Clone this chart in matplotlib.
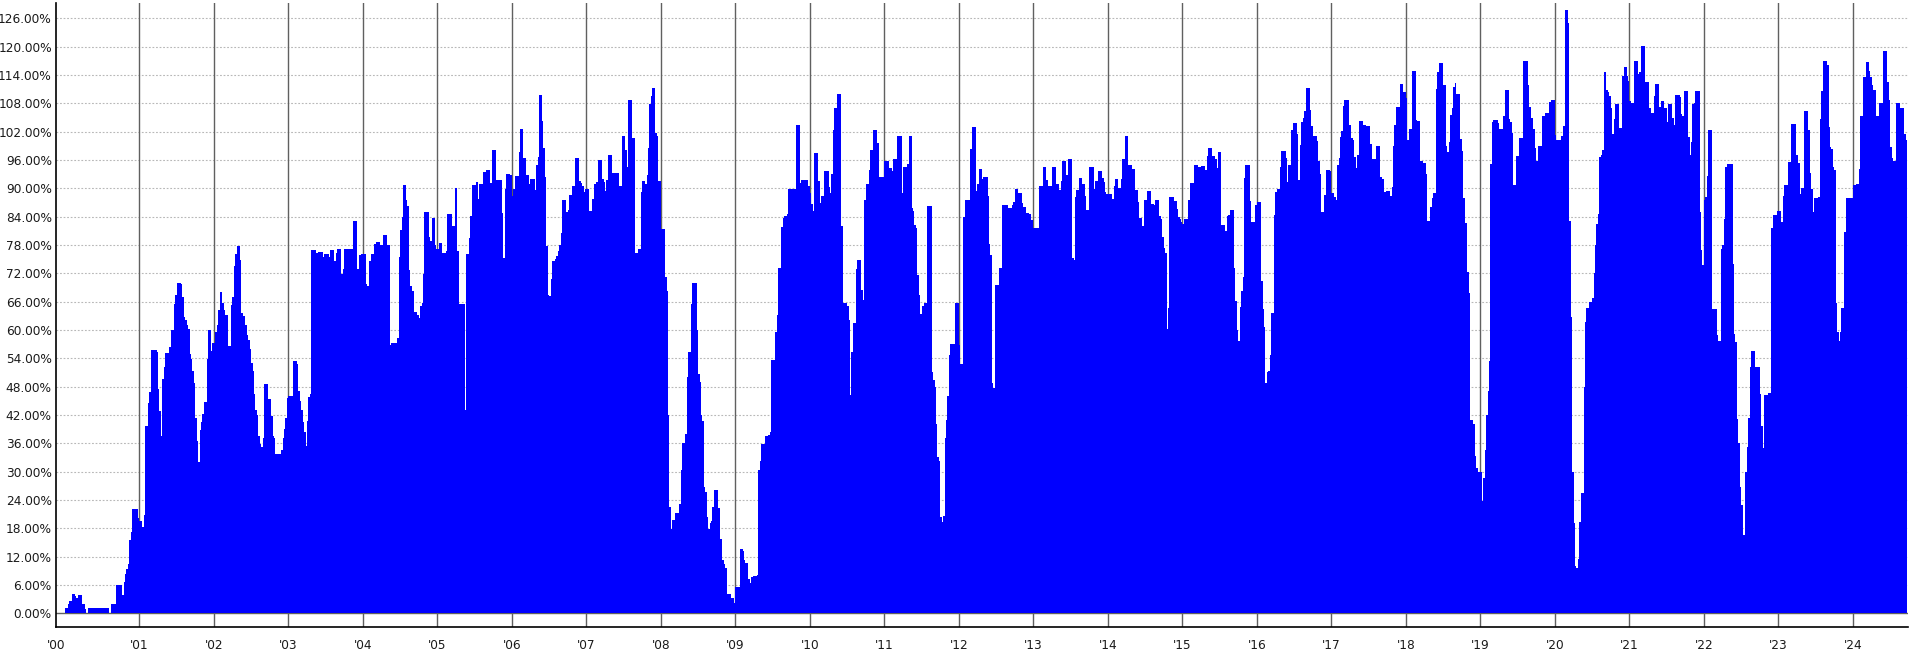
import numpy as np
import matplotlib
matplotlib.use("Agg")
import matplotlib.pyplot as plt

# ---- weekly values (%), one list per year ----
y2000 = [1.1, 1.1, 2.0, 2.6, 2.6, 4.1, 4.1, 3.7, 3.3, 3.9, 3.9, 3.9, 2.0, 2.0, 1.0, 0.0,
         1.1, 1.1, 1.1, 1.1, 1.1, 1.1, 1.1, 1.1, 1.1, 1.1, 1.1, 1.1, 1.1, 1.1, 1.1,
         0.0, 2.0, 2.0, 2.0, 2.0, 6.0, 6.0, 6.0, 6.0, 3.9, 6.6, 8.4, 9.4, 10.4, 15.6, 17.3,
         22.0, 22.0, 22.0, 22.0, 20.2]
y2001 = [19.5, 19.5, 18.2, 20.7, 39.6, 39.6, 44.5, 46.9, 55.8, 55.8, 55.8, 55.8, 55.3, 47.5,
         42.9, 37.6, 49.6, 52.1, 55.2, 55.2, 55.2, 56.4, 59.9, 59.9, 65.5, 67.5, 70.0, 70.0,
         70.0, 69.7, 66.9, 62.8, 62.0, 61.1, 60.2, 55.0, 53.9, 51.3, 48.8, 41.3, 36.5, 32.0,
         38.8, 40.4, 42.2, 44.8, 44.8, 53.9, 60.0, 60.0, 55.5, 57.3]
y2002 = [57.3, 59.6, 61.0, 64.2, 68.1, 68.1, 65.8, 64.2, 63.2, 63.2, 56.7, 56.7, 65.3, 67.0,
         73.6, 76.0, 77.7, 77.7, 74.8, 63.6, 63.0, 63.0, 61.1, 58.9, 57.8, 55.9, 53.0, 51.4,
         46.5, 43.0, 42.0, 37.6, 35.8, 35.3, 37.2, 48.6, 48.6, 48.6, 45.4, 45.4, 41.7, 37.6,
         37.1, 33.7, 33.7, 33.7, 33.7, 34.5, 37.1, 39.0, 41.3, 45.5]
y2003 = [46.0, 46.0, 46.0, 53.4, 53.4, 53.4, 52.8, 47.0, 45.0, 43.0, 40.6, 38.4, 35.5, 40.8,
         45.7, 46.4, 77.0, 77.0, 77.0, 76.2, 76.2, 76.4, 76.4, 76.4, 75.5, 76.1, 76.1, 76.1,
         75.5, 77.0, 77.0, 77.0, 74.7, 76.3, 77.2, 77.2, 77.2, 71.9, 72.9, 77.2, 77.2, 77.2,
         77.2, 77.2, 77.2, 83.0, 83.0, 83.0, 72.9, 75.8, 75.8, 76.1]
y2004 = [76.1, 76.1, 69.7, 69.4, 74.5, 74.5, 76.1, 76.1, 78.2, 78.7, 78.7, 78.7, 77.9, 77.9,
         80.0, 80.0, 80.0, 77.9, 77.9, 56.9, 57.3, 57.3, 57.3, 57.3, 58.2, 75.5, 81.2, 83.9,
         90.6, 90.6, 87.6, 86.2, 72.6, 69.2, 68.3, 68.3, 63.9, 63.9, 63.2, 62.5, 65.1, 65.8,
         71.9, 84.9, 84.9, 84.9, 79.6, 78.8, 83.8, 83.8, 77.9, 77.2]
y2005 = [77.2, 78.4, 78.4, 76.2, 76.2, 76.2, 76.8, 84.5, 84.5, 84.5, 82.1, 82.1, 90.1, 90.1,
         76.8, 65.5, 65.5, 65.4, 65.4, 43.0, 76.0, 76.0, 79.4, 84.2, 90.6, 90.6, 90.6, 91.3,
         87.7, 90.8, 90.8, 90.8, 93.4, 93.4, 93.9, 93.9, 93.9, 91.1, 98.0, 98.0, 98.0, 91.7,
         91.7, 91.7, 91.7, 84.7, 75.2, 89.9, 93.1, 93.1, 93.1, 92.8]
y2006 = [88.3, 89.9, 92.5, 92.6, 92.6, 97.7, 102.5, 102.5, 96.5, 96.5, 92.8, 92.8, 90.9, 91.9,
         91.9, 91.9, 89.6, 94.9, 96.6, 109.8, 109.8, 104.2, 98.6, 92.4, 77.8, 67.4, 67.1, 70.8,
         74.6, 74.6, 75.0, 75.7, 76.7, 78.0, 80.5, 87.5, 87.5, 87.5, 85.0, 85.3, 88.6, 88.6,
         90.5, 90.5, 96.5, 96.5, 96.5, 91.6, 91.2, 90.4, 89.2, 89.9]
y2007 = [89.9, 89.9, 85.2, 85.2, 87.8, 90.9, 90.9, 91.4, 96.0, 96.0, 96.0, 92.0, 91.3, 89.5,
         91.7, 97.0, 97.0, 97.0, 93.2, 93.2, 93.2, 93.2, 93.2, 90.5, 90.5, 101.1, 101.1, 98.0,
         94.4, 108.7, 108.7, 108.7, 100.7, 100.7, 76.3, 76.3, 77.1, 77.1, 89.2, 91.6, 91.6,
         90.9, 92.8, 98.6, 107.9, 109.5, 111.2, 111.2, 101.7, 101.1, 91.6, 91.6]
y2008 = [81.3, 81.3, 81.3, 71.2, 68.2, 42.0, 22.5, 17.9, 19.8, 19.8, 21.2, 21.2, 21.2, 23.1,
         30.4, 36.0, 36.0, 38.0, 50.0, 55.3, 55.3, 65.5, 69.9, 69.9, 69.9, 60.0, 50.7, 49.0,
         42.0, 40.8, 26.7, 25.7, 20.4, 17.8, 19.1, 19.6, 22.6, 26.0, 26.0, 26.0, 22.2, 15.7,
         15.7, 11.2, 10.4, 9.5, 4.0, 4.0, 4.0, 3.3, 3.2, 2.1]
y2009 = [5.5, 5.5, 5.5, 13.7, 13.7, 13.1, 11.2, 10.6, 10.6, 7.2, 6.3, 7.7, 7.9, 7.9, 7.9, 8.0,
         30.4, 32.3, 35.9, 35.9, 35.9, 37.5, 37.5, 37.8, 38.3, 53.6, 53.6, 53.6, 59.5, 63.2,
         73.1, 73.1, 81.8, 83.7, 84.1, 84.1, 84.5, 89.9, 89.9, 89.9, 89.9, 89.9, 103.4, 103.4,
         103.4, 91.2, 91.7, 91.7, 91.7, 91.7, 91.7, 90.5]
y2010 = [89.0, 86.7, 85.2, 97.5, 97.5, 97.5, 91.5, 86.9, 88.3, 88.3, 93.7, 93.7, 93.7, 90.3,
         88.9, 93.0, 102.4, 107.0, 107.0, 110.0, 110.0, 110.0, 82.0, 65.7, 65.7, 65.7, 65.0,
         62.1, 46.2, 55.3, 61.5, 61.5, 72.9, 74.8, 74.8, 74.8, 68.4, 66.4, 87.5, 90.9, 90.9,
         93.9, 98.1, 98.1, 102.4, 102.4, 102.4, 99.6, 92.4, 92.4, 92.4, 92.4]
y2011 = [95.8, 95.8, 95.8, 94.3, 94.3, 93.7, 96.2, 96.2, 96.2, 101.1, 101.1, 101.1, 89.0, 94.5,
         94.5, 94.5, 95.2, 101.1, 101.1, 85.8, 85.1, 82.3, 81.6, 71.6, 67.4, 63.3, 65.0, 65.0,
         65.7, 65.7, 86.2, 86.2, 86.2, 51.1, 49.4, 48.0, 40.0, 33.0, 32.2, 20.4, 19.3, 20.5,
         37.1, 41.0, 46.1, 54.6, 57.0, 57.0, 57.0, 65.7, 65.7, 65.7]
y2012 = [56.9, 52.7, 52.7, 84.0, 87.5, 87.5, 87.5, 87.5, 98.3, 103.0, 103.0, 103.0, 89.4, 90.9,
         94.0, 94.0, 92.0, 92.4, 92.4, 92.4, 88.3, 78.2, 75.8, 48.8, 47.8, 69.5, 69.5, 69.5,
         73.2, 73.2, 86.5, 86.5, 86.5, 86.5, 85.8, 85.8, 85.8, 86.5, 87.1, 89.9, 89.9, 89.0,
         89.0, 89.0, 86.9, 86.1, 86.1, 84.8, 84.8, 84.5, 83.3, 83.3]
y2013 = [81.6, 81.6, 81.6, 81.6, 90.5, 90.5, 90.5, 94.5, 94.5, 91.7, 90.5, 90.5, 90.5, 94.5,
         94.5, 94.5, 90.9, 90.9, 89.6, 91.6, 95.8, 95.8, 95.8, 92.8, 96.2, 96.2, 96.2, 75.3,
         74.8, 88.2, 89.6, 89.6, 92.1, 92.1, 90.9, 90.9, 88.3, 85.4, 85.4, 94.5, 94.5, 94.5,
         89.9, 91.6, 91.6, 93.7, 93.7, 93.7, 92.1, 91.3, 89.2, 88.8]
y2014 = [88.8, 88.8, 88.8, 87.8, 90.5, 92.0, 92.0, 90.0, 90.0, 92.0, 96.2, 96.2, 101.1, 101.1,
         94.9, 94.9, 94.9, 94.1, 94.1, 89.6, 89.6, 87.1, 83.7, 83.7, 82.0, 87.5, 87.5, 89.4,
         89.4, 89.4, 86.7, 86.7, 86.5, 87.5, 87.5, 87.5, 84.1, 83.5, 79.6, 77.4, 76.3, 60.2,
         64.6, 88.2, 88.2, 88.2, 87.3, 87.3, 85.6, 84.0, 83.5, 82.9]
y2015 = [82.4, 83.5, 83.5, 83.5, 87.5, 91.1, 91.1, 91.1, 94.9, 94.9, 94.9, 94.5, 94.5, 94.8,
         94.8, 94.8, 93.9, 96.9, 98.6, 98.6, 98.6, 96.9, 96.9, 96.2, 94.3, 97.7, 97.7, 82.3,
         82.3, 82.3, 81.0, 84.1, 84.4, 85.4, 85.4, 85.4, 73.1, 66.1, 59.9, 57.6, 64.8, 68.2,
         71.2, 92.1, 94.9, 94.9, 94.9, 87.3, 82.9, 82.9, 82.9, 86.4]
y2016 = [87.0, 87.0, 87.0, 70.4, 64.4, 60.6, 48.7, 51.1, 51.4, 54.6, 63.6, 63.6, 84.4, 89.2,
         89.8, 89.8, 94.5, 97.9, 97.9, 97.9, 96.5, 91.3, 94.9, 94.9, 102.4, 103.8, 103.8, 103.8,
         101.5, 91.7, 99.2, 104.1, 104.9, 106.4, 111.2, 111.2, 111.2, 106.6, 103.2, 101.1,
         101.1, 101.1, 100.0, 95.8, 93.0, 85.0, 85.0, 88.6, 93.9, 93.9, 93.9, 93.7]
y2017 = [89.0, 89.0, 88.2, 87.5, 94.9, 96.4, 100.8, 102.1, 107.4, 108.7, 108.7, 108.7, 103.4,
         103.4, 100.7, 100.3, 96.6, 94.3, 97.0, 104.2, 104.2, 104.2, 103.4, 103.4, 103.2, 103.2,
         103.2, 99.4, 96.2, 96.2, 96.2, 99.0, 99.0, 99.0, 92.4, 92.0, 92.0, 89.2, 89.4, 89.4,
         89.4, 88.3, 90.3, 99.0, 103.4, 107.3, 107.3, 107.3, 112.1, 112.1, 110.4, 110.4]
y2018 = [109.1, 100.3, 102.5, 102.5, 114.9, 114.9, 114.9, 104.5, 104.2, 104.2, 95.8, 95.8, 95.4,
         95.4, 93.0, 83.1, 83.1, 86.1, 87.9, 89.0, 89.0, 111.0, 114.6, 116.6, 116.6, 116.6,
         111.9, 111.9, 99.0, 97.7, 99.8, 105.5, 107.0, 111.5, 112.3, 110.0, 110.0, 110.0, 100.4,
         97.9, 88.0, 82.7, 82.7, 72.3, 67.8, 40.9, 40.9, 40.0, 33.3, 30.7, 29.9, 29.9]
y2019 = [29.9, 23.8, 28.6, 34.5, 42.0, 47.0, 53.4, 95.2, 104.1, 104.5, 104.5, 104.5, 103.8, 102.5,
         102.5, 102.5, 105.3, 110.8, 110.8, 110.8, 104.6, 104.1, 101.7, 90.7, 90.7, 96.9, 96.9,
         100.7, 100.7, 100.7, 117.0, 117.0, 117.0, 111.9, 107.3, 104.9, 104.9, 102.5, 98.6, 95.8,
         99.0, 99.0, 99.0, 105.3, 105.3, 105.9, 105.9, 105.9, 108.3, 108.7, 108.7, 108.7]
y2020 = [101.3, 100.3, 100.3, 100.3, 101.1, 101.1, 103.2, 127.7, 127.7, 125.0, 83.1, 62.8, 30.0,
         19.1, 10.0, 9.6, 11.4, 19.3, 25.4, 25.4, 48.0, 61.7, 64.6, 64.6, 65.9, 65.9, 66.7, 72.0,
         78.0, 82.4, 84.5, 96.6, 97.0, 98.1, 114.6, 114.6, 110.8, 110.4, 109.5, 107.0, 101.5,
         104.6, 107.9, 107.9, 107.9, 102.8, 102.8, 113.8, 115.7, 115.7, 113.8, 112.8]
y2021 = [108.5, 108.0, 108.0, 117.0, 117.0, 117.0, 114.2, 114.6, 120.1, 120.1, 120.1, 112.5,
         112.5, 112.5, 107.0, 106.0, 106.0, 109.5, 112.1, 112.1, 112.1, 107.3, 108.5, 108.5,
         107.0, 107.0, 104.1, 107.9, 107.9, 107.9, 104.9, 103.4, 109.8, 109.8, 109.8, 109.4,
         105.7, 105.3, 110.6, 110.6, 110.6, 100.8, 97.0, 99.8, 107.9, 108.0, 110.6, 110.6,
         110.6, 85.0, 76.9, 73.8]
y2022 = [87.5, 88.2, 92.6, 102.4, 102.4, 102.4, 64.4, 64.4, 64.4, 59.0, 57.6, 57.6, 77.1, 78.0,
         83.4, 94.5, 95.2, 95.2, 95.2, 95.2, 74.0, 59.1, 57.4, 41.2, 36.0, 26.7, 22.9, 16.6,
         16.6, 29.9, 35.3, 41.3, 52.1, 55.5, 55.5, 55.5, 52.1, 52.1, 52.1, 46.5, 39.6, 35.0,
         46.2, 46.2, 46.2, 46.6, 46.6, 81.6, 84.3, 84.3, 84.3, 85.1]
y2023 = [85.1, 85.1, 82.9, 88.3, 90.7, 90.7, 90.7, 95.6, 95.6, 103.6, 103.6, 103.6, 97.0, 97.0,
         95.4, 88.8, 90.0, 90.0, 106.4, 106.4, 106.4, 102.4, 93.2, 89.9, 85.0, 87.9, 87.9, 87.9,
         88.2, 104.6, 110.6, 117.0, 117.0, 117.0, 116.1, 103.0, 98.7, 98.3, 94.5, 93.9, 65.6,
         59.5, 57.6, 59.5, 64.6, 64.6, 80.7, 87.9, 87.9, 87.9, 87.9, 87.9]
y2024 = [90.7, 90.7, 90.9, 90.9, 94.1, 105.3, 105.3, 113.6, 113.6, 116.7, 116.7, 114.9, 113.6,
         111.9, 110.8, 110.8, 105.3, 105.3, 108.1, 108.1, 108.1, 119.1, 119.1, 119.1, 112.5,
         108.7, 98.7, 96.5, 95.8, 95.8, 108.1, 108.1, 108.1, 107.0, 107.0, 107.0, 101.5, 100.3]

years = list(range(2000, 2025))
series = [y2000, y2001, y2002, y2003, y2004, y2005, y2006, y2007, y2008, y2009,
          y2010, y2011, y2012, y2013, y2014, y2015, y2016, y2017, y2018, y2019,
          y2020, y2021, y2022, y2023, y2024]

y_ticks = list(range(0, 127, 6))
year_labels = ["'%02d" % (y % 100) for y in years]

# ---- build positions (fractional years, weekly) ----
xs, vals = [], []
for yr, arr in zip(years, series):
    n = len(arr)
    xs.extend(yr + (np.arange(n) + 0.5) / 52.0)
    vals.extend(arr)
xs = np.array(xs)
vals = np.array(vals)

W, H = 1911, 661
fig = plt.figure(figsize=(W / 100, H / 100), dpi=100)
left, right, top, bottom = 56, 1908, 2.7, 626.7
ax = fig.add_axes([left / W, (H - bottom) / H, (right - left) / W, (bottom - top) / H])

xmin, xmax = 1999.881, 2024.74
ax.set_xlim(xmin, xmax)
ax.set_ylim(-2.85, 129.3)

# grid
ax.set_axisbelow(True)
for v in y_ticks[1:]:
    ax.axhline(v, color="#b8b8b8", lw=0.8, ls=(0, (1.6, 1.6)), zorder=0.5)
for yr in years[1:]:
    ax.axvline(yr, color="#606060", lw=1.0, zorder=0.6)
ax.axhline(0, color="#606060", lw=1.0, zorder=0.7)

ax.bar(xs, vals, width=1 / 52.0 * 1.03, color="#0000ff", linewidth=0,
       antialiased=False, zorder=2, align="center")

# axes styling
for s in ("top", "right"):
    ax.spines[s].set_visible(False)
for s in ("left", "bottom"):
    ax.spines[s].set_color("#000000")
    ax.spines[s].set_linewidth(1.2)
    ax.spines[s].set_zorder(3)

ax.set_yticks(y_ticks)
ax.set_yticklabels(["%.2f%%" % v for v in y_ticks])
ax.set_xticks([xmin] + years[1:])
ax.set_xticklabels(year_labels)
ax.tick_params(axis="y", length=0, pad=3, labelsize=8.7, labelcolor="#1a1a1a")
ax.tick_params(axis="x", length=0, pad=9, labelsize=8.7, labelcolor="#1a1a1a")

fig.savefig("out.png", dpi=100)
